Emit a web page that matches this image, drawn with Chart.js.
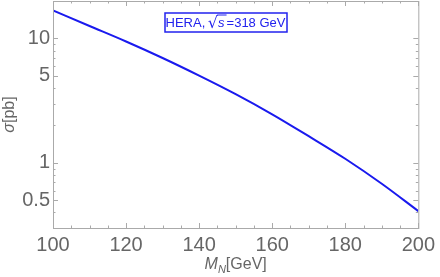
<!DOCTYPE html>
<html>
<head>
<meta charset="utf-8">
<script src="https://cdn.jsdelivr.net/npm/chart.js@4"></script>
<style>
  html, body { margin: 0; padding: 0; background: #fff; }
  #wrap { width: 440px; height: 277px; }
</style>
</head>
<body>
<div id="wrap"><canvas id="sigmaChart"></canvas></div>
<script>
// values
const massGeV = [100, 110, 120, 130, 140, 150, 160, 170, 180, 190, 200];
const sigmaPb = [16.8, 12.6, 9.46, 6.97, 5.03, 3.57, 2.46, 1.64, 1.08, 0.68, 0.41];

const xTickLabels = [100, 120, 140, 160, 180, 200];
const xMinorTicks = [105, 110, 115, 125, 130, 135, 145, 150, 155, 165, 170, 175, 185, 190, 195];
const yTickLabels = [0.5, 1, 5, 10];
const yMinorTicks = [0.3, 0.4, 0.6, 0.7, 0.8, 0.9, 2, 3, 4, 6, 7, 8, 9, 20];

const frameColor = '#aaaaaa';
const textColor = '#666666';
const lineColor = '#1a1aee';
const sans = '"Liberation Sans", Arial, sans-serif';

// Mathematica style frame with ticks pointing inwards
const framePlugin = {
    id: 'frameTicks',
    afterDatasetsDraw(chart) {
        const { ctx, chartArea: a, scales: { x, y } } = chart;
        ctx.save();
        ctx.strokeStyle = frameColor;
        ctx.lineWidth = 1;
        ctx.strokeRect(a.left + 0.5, a.top + 0.5, a.right - a.left, a.bottom - a.top);
        const tick = (x1, y1, x2, y2) => {
            ctx.beginPath();
            ctx.moveTo(x1, y1);
            ctx.lineTo(x2, y2);
            ctx.stroke();
        };
        xTickLabels.forEach(v => {
            const px = Math.round(x.getPixelForValue(v)) + 0.5;
            tick(px, a.bottom, px, a.bottom - 5);
            tick(px, a.top, px, a.top + 5);
        });
        xMinorTicks.forEach(v => {
            const px = Math.round(x.getPixelForValue(v)) + 0.5;
            tick(px, a.bottom, px, a.bottom - 2.5);
            tick(px, a.top, px, a.top + 2.5);
        });
        yTickLabels.forEach(v => {
            const py = Math.round(y.getPixelForValue(v)) + 0.5;
            tick(a.left, py, a.left + 5, py);
            tick(a.right, py, a.right - 5, py);
        });
        yMinorTicks.forEach(v => {
            const py = Math.round(y.getPixelForValue(v)) + 0.5;
            tick(a.left, py, a.left + 2.5, py);
            tick(a.right, py, a.right - 2.5, py);
        });
        ctx.restore();
    }
};

// axis titles with italic symbols and subscript
const titlePlugin = {
    id: 'axisTitles',
    afterDraw(chart) {
        const { ctx, chartArea: a } = chart;
        ctx.save();
        ctx.fillStyle = textColor;
        ctx.textBaseline = 'alphabetic';

        // x title: M_N[GeV]
        const parts = [
            { t: 'M', f: 'italic 16px ' + sans, dy: 0 },
            { t: 'N', f: 'italic 11px ' + sans, dy: 4 },
            { t: '[GeV]', f: '16px ' + sans, dy: 0 }
        ];
        let tw = 0;
        parts.forEach(p => { ctx.font = p.f; p.w = ctx.measureText(p.t).width; tw += p.w; });
        let cx = (a.left + a.right) / 2 - tw / 2;
        const by = 269;
        parts.forEach(p => { ctx.font = p.f; ctx.fillText(p.t, cx, by + p.dy); cx += p.w; });

        // y title: sigma[pb], rotated
        ctx.translate(14, (a.top + a.bottom) / 2);
        ctx.rotate(-Math.PI / 2);
        const yp = [
            { t: '\u03C3', f: 'italic 16px ' + sans },
            { t: '[pb]', f: '16px ' + sans }
        ];
        tw = 0;
        yp.forEach(p => { ctx.font = p.f; p.w = ctx.measureText(p.t).width; tw += p.w; });
        cx = -tw / 2;
        yp.forEach(p => { ctx.font = p.f; ctx.fillText(p.t, cx, 0); cx += p.w; });
        ctx.restore();
    }
};

// boxed label "HERA, √s =318 GeV"
const labelPlugin = {
    id: 'heraLabel',
    afterDraw(chart) {
        const { ctx, chartArea: a } = chart;
        const bx = a.left + 112, by = a.top + 12, bw = 122, bh = 19;
        ctx.save();
        ctx.strokeStyle = '#2222ee';
        ctx.lineWidth = 1.5;
        ctx.strokeRect(bx, by, bw, bh);
        ctx.fillStyle = '#2222ee';
        ctx.textBaseline = 'middle';
        const ty = by + bh / 2 + 1;
        const normal = '13px ' + sans;
        const italic = 'italic 13px ' + sans;
        ctx.font = normal;
        const p1 = 'HERA, ', p3 = '=318 GeV';
        const w1 = ctx.measureText(p1).width;
        const w3 = ctx.measureText(p3).width;
        ctx.font = '16px "DejaVu Sans", sans-serif';
        const wr = ctx.measureText('\u221A').width;
        ctx.font = italic;
        const w2 = ctx.measureText('s').width + 2;
        const total = w1 + wr + w2 + w3;
        let cx = bx + (bw - total) / 2;
        ctx.font = normal;
        ctx.fillText(p1, cx, ty);
        cx += w1;
        ctx.font = '16px "DejaVu Sans", sans-serif';
        ctx.fillText('\u221A', cx - 1, ty);
        cx += wr - 1;
        ctx.lineWidth = 1;
        ctx.beginPath();
        ctx.moveTo(cx - 1, ty - 8.5);
        ctx.lineTo(cx + w2, ty - 8.5);
        ctx.stroke();
        ctx.font = italic;
        ctx.fillText('s', cx, ty);
        cx += w2;
        ctx.font = normal;
        ctx.fillText(p3, cx, ty);
        ctx.restore();
    }
};

document.addEventListener('DOMContentLoaded', () => {
    const ctx = document.getElementById('sigmaChart').getContext('2d');

    new Chart(ctx, {
        type: 'line',
        data: {
            labels: massGeV,
            datasets: [{
                data: massGeV.map((m, i) => ({ x: m, y: sigmaPb[i] })),
                borderColor: lineColor,
                borderWidth: 2,
                pointRadius: 0,
                cubicInterpolationMode: 'monotone',
                fill: false
            }]
        },
        options: {
            responsive: true,
            maintainAspectRatio: false,
            animation: false,
            layout: { padding: { top: 1, right: 19, left: 0, bottom: 0 } },
            plugins: {
                legend: { display: false },
                tooltip: { enabled: false }
            },
            scales: {
                x: {
                    type: 'linear',
                    min: 100,
                    max: 200,
                    afterBuildTicks: s => { s.ticks = xTickLabels.map(v => ({ value: v })); },
                    afterFit: s => { s.height = 49; },
                    grid: { display: false, drawTicks: false, tickLength: 0 },
                    border: { display: false },
                    ticks: {
                        color: textColor,
                        padding: 5,
                        maxRotation: 0,
                        font: { family: sans, size: 20 }
                    }
                },
                y: {
                    type: 'logarithmic',
                    min: 0.3,
                    max: 20,
                    afterBuildTicks: s => { s.ticks = yTickLabels.map(v => ({ value: v })); },
                    afterFit: s => { s.width = 53; s.paddingTop = 0; s.paddingBottom = 0; },
                    grid: { display: false, drawTicks: false, tickLength: 0 },
                    border: { display: false },
                    ticks: {
                        color: textColor,
                        padding: 3,
                        callback: v => String(v),
                        font: { family: sans, size: 20 }
                    }
                }
            }
        },
        plugins: [framePlugin, titlePlugin, labelPlugin]
    });
});
</script>
</body>
</html>
